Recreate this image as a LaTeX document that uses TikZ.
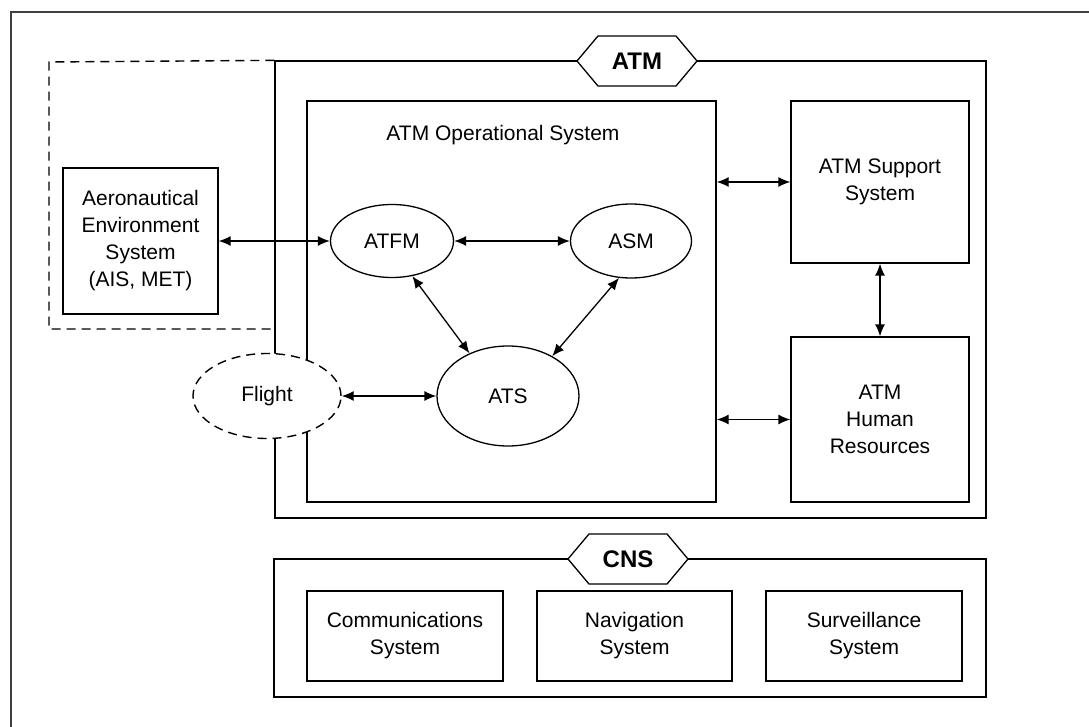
\documentclass[tikz,border=0pt]{standalone}
\usepackage{fontspec}
\setmainfont{Liberation Sans}
\usetikzlibrary{arrows.meta,shapes.geometric,shapes.symbols}

\tikzset{
  box/.style={draw, line width=1.3pt, align=center, inner sep=0pt},
  oval/.style={draw, ellipse, line width=1.3pt, inner sep=0pt},
  tag/.style={draw, signal, signal to=east and west, signal pointer angle=100,
    fill=white, line width=1.3pt, inner sep=0pt,
    minimum width=120pt, minimum height=50pt,
    font=\fontsize{24}{28}\selectfont\bfseries},
  fence/.style={line width=1.4pt, dash pattern=on 9pt off 6pt},
  frame/.style={line width=2pt, draw=black!75},
  link/.style={line width=1.3pt, {Latex[length=12pt,width=10pt]}-{Latex[length=12pt,width=10pt]}},
}

\begin{document}
\begin{tikzpicture}[x=1pt, y=-1pt, font=\fontsize{21}{27}\selectfont]
\useasboundingbox (0,0) rectangle (1089,727);
\draw[frame] (1089,12) -- (11,12) -- (11,727);

% ATM part
\node[box, minimum width=711pt, minimum height=457pt] (atm) at (630.5,289.5) {};
\draw[fence] (atm.north west) -- (49,62) -- (49,329) -- (atm.west |- 0,329);
\node[box, minimum width=155pt, minimum height=146pt] (aero) at (140.5,241)
  {Aeronautical\\Environment\\System\\(AIS, MET)};
\node[box, minimum width=409pt, minimum height=401pt] (opsys) at (511.5,301.5) {};
\node (optitle) at (503,135) {ATM Operational System};
\node[box, minimum width=178pt, minimum height=162pt] (support) at (880,182) {ATM Support\\System};
\node[box, minimum width=178pt, minimum height=165pt] (hr) at (880,419.5) {ATM\\Human\\Resources};
\node[oval, minimum width=123pt, minimum height=73pt] (atfm) at (392,241) {ATFM};
\node[oval, minimum width=121pt, minimum height=74pt] (asm) at (631,241) {ASM};
\node[oval, minimum width=142pt, minimum height=100pt] (ats) at (508,396) {ATS};
\node[oval, fence, fill=white, minimum width=148pt, minimum height=85pt] (flight) at (267,396) {Flight};
\node[tag] (atmtag) at (637,61) {ATM};

% links
\draw[link] (aero.east) -- (aero.east -| atfm.west);
\draw[link] (atfm.east) -- (asm.west);
\draw[link] (atfm.300) -- (ats.132);
\draw[link] (asm.252) -- (ats.42);
\draw[link] (flight.east) -- (ats.west);
\draw[link] (support.west -| opsys.east) -- (support.west);
\draw[link] (hr.west -| opsys.east) -- (hr.west);
\draw[link] (support.south) -- (hr.north);

% CNS part
\node[box, minimum width=712pt, minimum height=138pt] (cns) at (630,628) {};
\node[tag] (cnstag) at (628,559) {CNS};
\node[box, minimum width=196pt, minimum height=90pt] (comm) at (405,636) {Communications\\System};
\node[box, minimum width=195pt, minimum height=90pt] (nav) at (634.5,636) {Navigation\\System};
\node[box, minimum width=196pt, minimum height=90pt] (surv) at (864,636) {Surveillance\\System};
\end{tikzpicture}
\end{document}
